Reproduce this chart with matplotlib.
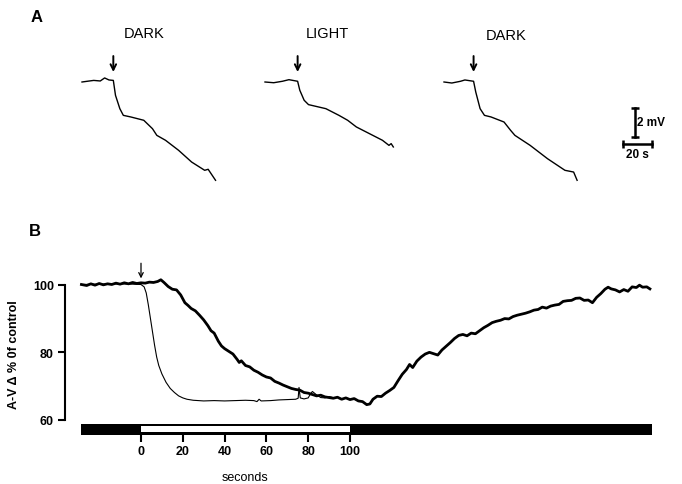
import matplotlib
matplotlib.use('Agg')
import matplotlib.pyplot as plt
from matplotlib.patches import Rectangle
import matplotlib.transforms as mtransforms

plt.rcParams['font.family'] = ['Liberation Sans', 'DejaVu Sans']

# ---- Panel A: voltage traces (time in s from trace start, mV from baseline)
dark1_t = [0, 3.6, 8.1, 12.6, 15.6, 18.6, 21.6, 23.1, 26.1, 28.5, 33.6, 42.6,
           48.6, 51.6, 57.6, 66.6, 75.6, 84.6, 87.0, 92.1]
dark1_v = [0, 0.05, 0.11, 0.07, 0.28, 0.14, 0.11, -0.92, -1.84, -2.30, -2.41, -2.64,
           -3.22, -3.68, -4.02, -4.71, -5.52, -6.09, -6.02, -6.78]
light_t = [0, 6.0, 12.0, 16.5, 22.5, 24.0, 27.0, 30.0, 42.0, 51.0, 57.0, 63.0,
           72.0, 81.0, 85.5, 87.0, 88.5]
light_v = [0, -0.05, 0.05, 0.16, 0.05, -0.57, -1.26, -1.56, -1.84, -2.30, -2.64, -3.10,
           -3.56, -4.02, -4.37, -4.25, -4.48]
dark2_t = [0, 5.4, 11.4, 14.4, 20.4, 21.9, 24.9, 27.9, 32.4, 41.4, 45.9, 48.9,
           59.4, 71.4, 83.4, 89.4, 91.8]
dark2_v = [0, -0.07, 0.05, 0.14, 0.05, -0.69, -1.84, -2.30, -2.41, -2.76, -3.33, -3.68,
           -4.37, -5.29, -6.09, -6.21, -6.78]
trace_labels = ['DARK', 'LIGHT', 'DARK']
stim_times = [21.6, 22.5, 20.4]

# ---- Panel B: A-V difference, % of control
thick_t = [-28.5, -26, -24, -22, -20, -18, -16, -14, -12, -10, -8, -6, -4, -2, 0, 2, 4, 6, 8,
           9.5, 11, 13, 15, 17, 19, 21, 22.5, 24, 26, 28, 30, 32, 33.5, 35, 37, 38.5, 40,
           42, 44, 46, 47, 48, 50, 52, 54, 56, 58, 60, 62, 64, 66, 68, 70, 72, 74, 76, 78,
           80, 82, 84, 86, 88, 90, 92, 94, 96, 98, 100, 102, 104, 106, 108, 109.5, 111, 113,
           115, 117, 119, 121, 123, 125, 127, 128.5, 130, 132, 134, 136, 138, 140, 142, 144,
           146, 148, 150, 152, 154, 156, 158, 160, 162, 164, 166, 168, 170, 172, 174, 176,
           178, 180, 182, 184, 186, 188, 190, 192, 194, 196, 198, 200, 202, 204, 206, 208,
           210, 212, 214, 216, 218, 220, 222, 223.5, 225, 227, 229, 231, 233, 235, 237,
           238.5, 240, 242, 243.5]
thick_v = [100.0, 99.7, 100.2, 99.8, 100.3, 99.9, 100.2, 100.0, 100.4, 100.1, 100.5, 100.2,
           100.6, 100.3, 100.5, 100.4, 100.7, 100.6, 100.9, 101.4, 100.6, 99.4, 98.6, 98.4,
           96.9, 94.6, 93.8, 92.9, 92.2, 90.9, 89.5, 87.8, 86.3, 85.6, 83.2, 81.8, 81.0, 80.2,
           79.4, 77.8, 76.9, 77.4, 76.0, 75.6, 74.6, 74.0, 73.2, 72.6, 72.3, 71.3, 70.8, 70.2,
           69.7, 69.2, 68.9, 68.7, 68.0, 67.8, 67.4, 67.0, 67.2, 66.7, 66.5, 66.3, 66.6, 66.0,
           66.4, 65.9, 66.2, 65.5, 65.3, 64.4, 64.6, 66.0, 66.9, 66.8, 67.8, 68.6, 69.5, 71.5,
           73.4, 74.8, 76.3, 75.4, 77.3, 78.5, 79.4, 79.9, 79.5, 79.1, 80.6, 81.7, 82.8, 84.0,
           84.9, 85.2, 84.8, 85.6, 85.4, 86.3, 87.2, 87.9, 88.7, 89.1, 89.4, 89.9, 89.8, 90.5,
           90.9, 91.2, 91.5, 91.9, 92.4, 92.6, 93.3, 93.0, 93.6, 93.9, 94.1, 95.0, 95.2, 95.3,
           95.9, 96.0, 95.3, 95.4, 94.6, 96.2, 97.3, 98.6, 99.2, 98.7, 98.4, 97.8, 98.5, 98.0,
           99.3, 99.1, 99.8, 99.2, 99.3, 98.7]
thin_t = [-28, -20, -10, -4, 0, 1.5, 2.5, 3.5, 4.5, 5.5, 6.5, 7.5, 8.5, 10, 12, 14, 16, 18,
          20, 22, 25, 30, 35, 40, 45, 50, 54, 55.5, 56.5, 57.5, 62, 66, 70, 74, 75.2, 75.6,
          76.2, 78, 80, 81, 82, 84, 86, 88, 90, 93]
thin_v = [100.0, 100.1, 100.2, 100.1, 100.0, 99.3, 97.5, 94.0, 90.0, 86.0, 82.0, 78.5, 76.0,
          73.5, 71.0, 69.2, 68.0, 67.0, 66.4, 66.0, 65.7, 65.5, 65.6, 65.5, 65.6, 65.7, 65.6,
          65.3, 66.0, 65.5, 65.6, 65.8, 65.9, 66.0, 66.3, 69.5, 66.4, 66.1, 66.4, 67.5, 68.3,
          67.3, 66.5, 66.4, 66.8, 66.3]
light_on, light_off = 0, 100
bar_start, bar_end = -28.7, 244.5
x_ticks = [0, 20, 40, 60, 80, 100]
y_ticks = [60, 80, 100]

W, H = 682, 485
fig = plt.figure(figsize=(W / 100, H / 100), dpi=100)

# ---------------- Panel A
px_s, px_mv = 1.45, 14.5          # pixels per second / per mV
base_y = 83
axA = fig.add_axes([0, 1 - 200 / H, 1, 200 / H])
axA.set_xlim(0, W / px_s)
axA.set_ylim(-(200 - base_y) / px_mv, base_y / px_mv)
axA.axis('off')

starts = [82 / px_s, 265 / px_s, 444 / px_s]
label_y = [(base_y - 34) / px_mv, (base_y - 34) / px_mv, (base_y - 36) / px_mv]
for (tt, vv), x0, lab, ts, ly in zip([(dark1_t, dark1_v), (light_t, light_v), (dark2_t, dark2_v)],
                                     starts, trace_labels, stim_times, label_y):
    axA.plot([x0 + t for t in tt], vv, color='black', lw=1.0)
    axA.text(x0 + 43, ly, lab, ha='center', va='center', fontsize=10.5)
    axA.annotate('', xy=(x0 + ts, 0.69), xytext=(x0 + ts, 1.79),
                 arrowprops=dict(arrowstyle='->', lw=1.4, color='black',
                                 shrinkA=0, shrinkB=0, mutation_scale=10))

# scale bars
sx, sy = 635 / px_s, (base_y - 138) / px_mv
axA.plot([sx, sx], [sy, sy + 2], color='black', lw=1.8, marker='_', ms=6, mew=1.8)
axA.text(sx + 0.03 * 0 + 1.5, sy + 1.0, '2 mV', ha='left', va='center',
         fontsize=8.5, fontweight='bold')
hx, hy = 623 / px_s, (base_y - 145) / px_mv
axA.plot([hx, hx + 20], [hy, hy], color='black', lw=1.8, marker='|', ms=6, mew=1.8)
axA.text(hx + 10, hy - 0.7, '20 s', ha='center', va='center',
         fontsize=8.5, fontweight='bold')

fig.text(37 / W, 1 - 17 / H, 'A', ha='center', va='center', fontsize=12, fontweight='bold')

# ---------------- Panel B
px_t = 2.09
t0_px = 141
xl = ((65 - t0_px) / px_t, (660 - t0_px) / px_t)
axB = fig.add_axes([65 / W, 1 - 420.5 / H, 595 / W, 162 / H])
axB.plot(thin_t, thin_v, color='black', lw=0.8)
axB.plot(thick_t, thick_v, color='black', lw=2.0)
axB.set_xlim(*xl)
axB.set_ylim(60, 108)
for s in ['top', 'right', 'bottom']:
    axB.spines[s].set_visible(False)
axB.spines['left'].set_bounds(60, 100)
axB.spines['left'].set_linewidth(1.5)
axB.set_xticks([])
axB.set_yticks(y_ticks)
axB.tick_params(axis='y', direction='out', length=5, width=1.5, pad=3, labelsize=9)
for lb in axB.get_yticklabels():
    lb.set_fontweight('bold')
axB.annotate('', xy=(0, 101.8), xytext=(0, 106.3),
             arrowprops=dict(arrowstyle='->', lw=0.9, color='black',
                             shrinkA=0, shrinkB=0, mutation_scale=8))
fig.text(14 / W, 1 - 354.5 / H, 'A-V \u0394 % 0f control', rotation=90,
         ha='center', va='center', fontsize=9, fontweight='bold')
fig.text(35 / W, 1 - 232 / H, 'B', ha='center', va='center', fontsize=12, fontweight='bold')

# light bar
axL = fig.add_axes([65 / W, 1 - 436 / H, 595 / W, 11 / H])
axL.set_xlim(*xl)
axL.set_ylim(0, 1)
axL.add_patch(Rectangle((bar_start, 0), bar_end - bar_start, 1, color='black', lw=0))
axL.add_patch(Rectangle((light_on, 0.25), light_off - light_on, 0.55, color='white', lw=0))
for s in axL.spines.values():
    s.set_visible(False)
axL.set_yticks([])
axL.set_xticks(x_ticks)
axL.tick_params(axis='x', direction='out', length=5, width=1.5, pad=2.5, labelsize=9)
for lb in axL.get_xticklabels():
    lb.set_fontweight('bold')
trans = mtransforms.blended_transform_factory(axL.transData, axL.transAxes)
axL.text(50, -3.8, 'seconds', transform=trans, ha='center', va='center', fontsize=9)

fig.savefig('out.png', dpi=100)
